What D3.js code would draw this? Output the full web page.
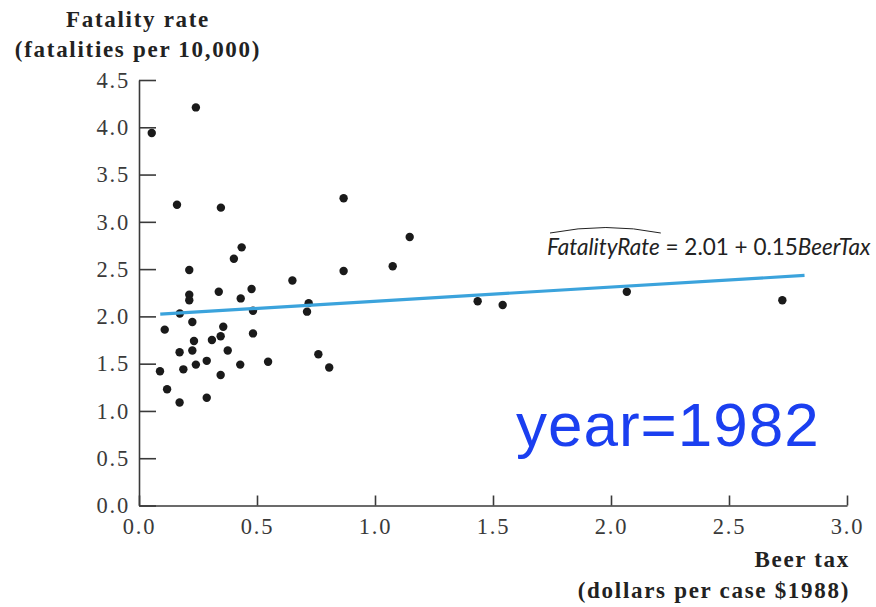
<!DOCTYPE html>
<html>
<head>
<meta charset="utf-8">
<script src="https://cdn.jsdelivr.net/npm/d3@7"></script>
<style>
  html, body { margin: 0; padding: 0; background: #ffffff; }
  svg { display: block; }
  .axis path, .axis line { stroke: #3a3a3a; stroke-width: 1.6; }
  .axis text { font-family: "Liberation Serif", "DejaVu Serif", serif; font-size: 22.5px; letter-spacing: 1.8px; fill: #3a3a3a; }
  .title { font-family: "Liberation Serif", "DejaVu Serif", serif; font-weight: bold; font-size: 23px; letter-spacing: 1.7px; fill: #222; }
</style>
</head>
<body>
<svg id="chart" width="876" height="607"></svg>
<script>
// Beer tax (dollars per case, $1988) and traffic fatality rate per 10,000, 1982
const beerTax = [
  0.054, 0.241, 0.161, 0.347, 0.435, 0.402, 0.213, 0.650, 0.213, 0.213,
  0.338, 0.477, 0.431, 0.173, 0.483, 0.226, 0.109, 0.357, 0.483, 0.346,
  0.309, 0.233, 0.226, 0.376, 0.172, 0.287, 0.547, 0.241, 0.429, 0.188,
  0.089, 0.346, 0.119, 0.287, 0.172, 0.867, 1.147, 1.075, 0.867, 0.719,
  0.712, 0.760, 0.806, 1.435, 1.541, 2.067, 2.726
];
const fatalityRate = [
  3.94, 4.21, 3.18, 3.15, 2.73, 2.61, 2.49, 2.38, 2.23, 2.17,
  2.26, 2.29, 2.19, 2.03, 2.06, 1.94, 1.86, 1.89, 1.82, 1.79,
  1.75, 1.74, 1.64, 1.64, 1.62, 1.53, 1.52, 1.49, 1.49, 1.44,
  1.42, 1.38, 1.23, 1.14, 1.09, 3.25, 2.84, 2.53, 2.48, 2.14,
  2.05, 1.60, 1.46, 2.16, 2.12, 2.26, 2.17
];

// OLS fit: FatalityRate = 2.01 + 0.15 BeerTax, drawn over this tax range
const fitCoef = [2.01, 0.15];
const fitRange = [0.09, 2.82];

const xTicks = [0, 0.5, 1.0, 1.5, 2.0, 2.5, 3.0];
const yTicks = [0, 0.5, 1.0, 1.5, 2.0, 2.5, 3.0, 3.5, 4.0, 4.5];
const yTitle = ["Fatality rate", "(fatalities per 10,000)"];
const xTitle = ["Beer tax", "(dollars per case $1988)"];
const yearLabel = "year=1982";

const svg = d3.select("#chart");

const x = d3.scaleLinear().domain([0, 3]).range([139, 847]);
const y = d3.scaleLinear().domain([0, 4.5]).range([505.5, 80]);

// axes with inward ticks
svg.append("g")
  .attr("class", "axis")
  .attr("transform", `translate(${x(0)},0)`)
  .call(d3.axisLeft(y).tickValues(yTicks).tickFormat(d3.format(".1f"))
    .tickSizeInner(-17).tickSizeOuter(0).tickPadding(9));

svg.append("g")
  .attr("class", "axis")
  .attr("transform", `translate(0,${y(0)})`)
  .call(d3.axisBottom(x).tickValues(xTicks).tickFormat(d3.format(".1f"))
    .tickSizeInner(-10).tickSizeOuter(0).tickPadding(13));

// axis titles
svg.append("text").attr("class", "title")
  .attr("x", 138).attr("y", 27).attr("text-anchor", "middle").text(yTitle[0]);
svg.append("text").attr("class", "title")
  .attr("x", 138).attr("y", 57).attr("text-anchor", "middle").text(yTitle[1]);
svg.append("text").attr("class", "title")
  .attr("x", 850).attr("y", 567).attr("text-anchor", "end").text(xTitle[0]);
svg.append("text").attr("class", "title")
  .attr("x", 850).attr("y", 598).attr("text-anchor", "end").text(xTitle[1]);

// scatter points
const pts = beerTax.map((t, i) => ({ t, f: fatalityRate[i] }));
svg.append("g").selectAll("circle")
  .data(pts)
  .join("circle")
  .attr("cx", d => x(d.t))
  .attr("cy", d => y(d.f))
  .attr("r", 4.2)
  .attr("fill", "#1a1a1a");

// regression line
const fitLine = d3.line()
  .x(d => x(d))
  .y(d => y(fitCoef[0] + fitCoef[1] * d));
svg.append("path")
  .datum(fitRange)
  .attr("d", fitLine)
  .attr("fill", "none")
  .attr("stroke", "#3ba3dc")
  .attr("stroke-width", 3.2);

// fitted equation label with a hat over the dependent variable
const eq = svg.append("text")
  .attr("x", 547).attr("y", 255)
  .style("font-family", "Lato, 'Open Sans', sans-serif")
  .style("font-size", "22.5px")
  .style("fill", "#222");
const lhs = eq.append("tspan").style("font-style", "italic").text("FatalityRate");
eq.append("tspan").text(` = ${fitCoef[0].toFixed(2)} + ${fitCoef[1].toFixed(2)}`);
eq.append("tspan").style("font-style", "italic").text("BeerTax");

const lhsW = lhs.node().getComputedTextLength();
svg.append("path")
  .attr("d", `M${550},233 Q${550 + lhsW / 2},222 ${548 + lhsW},233`)
  .attr("fill", "none")
  .attr("stroke", "#222")
  .attr("stroke-width", 1);

// year annotation
svg.append("text")
  .attr("x", 516).attr("y", 446)
  .style("font-family", "'Liberation Sans', Arial, sans-serif")
  .style("font-size", "62px")
  .style("letter-spacing", "1px")
  .style("fill", "#1b3ff0")
  .text(yearLabel);
</script>
</body>
</html>
